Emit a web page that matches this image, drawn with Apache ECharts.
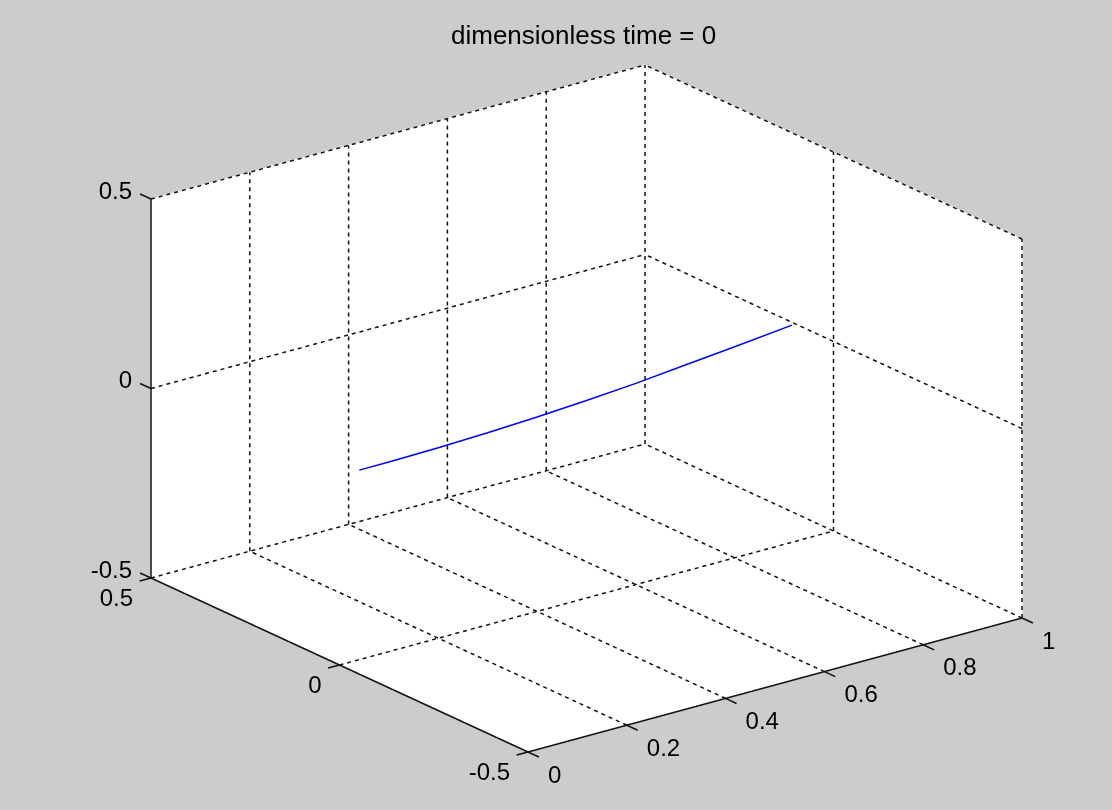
<!DOCTYPE html>
<html><head><meta charset="utf-8">
<script src="https://cdn.jsdelivr.net/npm/echarts@6/dist/echarts.min.js"></script>
<style>html,body{margin:0;padding:0;background:#cccccc}#c{width:1112px;height:810px}</style>
</head><body><div id="c"></div>
<script>
// ---- data ----
const titleText = 'dimensionless time = 0';
const xLim = [0, 1];
const yLim = [-0.5, 0.5];
const zLim = [-0.5, 0.5];
const xTicks = [0, 0.2, 0.4, 0.6, 0.8, 1];
const yTicks = [-0.5, 0, 0.5];
const zTicks = [-0.5, 0, 0.5];
const xTickLabels = ['0', '0.2', '0.4', '0.6', '0.8', '1'];
const yTickLabels = ['-0.5', '0', '0.5'];
const zTickLabels = ['-0.5', '0', '0.5'];
const curveX = [0.04, 0.1, 0.2, 0.3, 0.4, 0.5, 0.6, 0.7, 0.8, 0.916];
const curveY = [0, 0, 0, 0, 0, 0, 0, 0, 0, 0];
const curveZ = [0, 0.0004, 0.0026, 0.0068, 0.013, 0.021, 0.031, 0.044, 0.057, 0.073];

// ---- view (layout of the 3D box on the page) ----
const VIEW = { ox: 528, oy: 752, ex: [494, -134], ey: [-377, -174], ez: [0, -379] };
function proj(x, y, z) {
  const a = (x - xLim[0]) / (xLim[1] - xLim[0]);
  const b = (y - yLim[0]) / (yLim[1] - yLim[0]);
  const c = (z - zLim[0]) / (zLim[1] - zLim[0]);
  return [VIEW.ox + a * VIEW.ex[0] + b * VIEW.ey[0] + c * VIEW.ez[0],
          VIEW.oy + a * VIEW.ex[1] + b * VIEW.ey[1] + c * VIEW.ez[1]];
}
const FONT = "'Liberation Sans', Arial, Helvetica, sans-serif";
const LW = 1.5;
const DASH = [4, 4];

// faces (back planes): y = yMax, x = xMax, z = zMin
const faces = [
  [[xLim[0], yLim[1], zLim[0]], [xLim[1], yLim[1], zLim[0]], [xLim[1], yLim[1], zLim[1]], [xLim[0], yLim[1], zLim[1]]],
  [[xLim[1], yLim[0], zLim[0]], [xLim[1], yLim[1], zLim[0]], [xLim[1], yLim[1], zLim[1]], [xLim[1], yLim[0], zLim[1]]],
  [[xLim[0], yLim[0], zLim[0]], [xLim[1], yLim[0], zLim[0]], [xLim[1], yLim[1], zLim[0]], [xLim[0], yLim[1], zLim[0]]]
];

// grid segments (dashed)
const gridSegs = [];
xTicks.filter(x => x > xLim[0]).forEach(x => {
  gridSegs.push([x, yLim[1], zLim[0], x, yLim[1], zLim[1]]);   // left wall vertical
  gridSegs.push([x, yLim[0], zLim[0], x, yLim[1], zLim[0]]);   // floor
});
zTicks.filter(z => z > zLim[0]).forEach(z => {
  gridSegs.push([xLim[0], yLim[1], z, xLim[1], yLim[1], z]);   // left wall horizontal
  gridSegs.push([xLim[1], yLim[0], z, xLim[1], yLim[1], z]);   // back wall horizontal
});
yTicks.filter(y => y < yLim[1]).forEach(y => {
  gridSegs.push([xLim[1], y, zLim[0], xLim[1], y, zLim[1]]);   // back wall vertical
});
yTicks.filter(y => y > yLim[0]).forEach(y => {
  gridSegs.push([xLim[0], y, zLim[0], xLim[1], y, zLim[0]]);   // floor
});

// axis lines and tick marks (solid)
const axisSegs = [
  [xLim[0], yLim[1], zLim[0], xLim[0], yLim[1], zLim[1]],
  [xLim[0], yLim[0], zLim[0], xLim[0], yLim[1], zLim[0]],
  [xLim[0], yLim[0], zLim[0], xLim[1], yLim[0], zLim[0]]
];
const TY = 0.029 * (yLim[1] - yLim[0]), TX = 0.023 * (xLim[1] - xLim[0]);
zTicks.forEach(z => axisSegs.push([xLim[0], yLim[1], z, xLim[0], yLim[1] + TY, z]));
yTicks.forEach(y => axisSegs.push([xLim[0], y, zLim[0], xLim[0] - TX, y, zLim[0]]));
xTicks.forEach(x => axisSegs.push([x, yLim[0], zLim[0], x, yLim[0] - TY, zLim[0]]));

function segSeries(segs, dash) {
  return {
    type: 'custom', clip: false, silent: true,
    data: segs,
    renderItem: (params, api) => {
      const p1 = api.coord(proj(api.value(0), api.value(1), api.value(2)));
      const p2 = api.coord(proj(api.value(3), api.value(4), api.value(5)));
      return { type: 'line', shape: { x1: p1[0], y1: p1[1], x2: p2[0], y2: p2[1] },
        style: { stroke: '#111', lineWidth: LW, lineDash: dash || null } };
    }
  };
}
function labelSeries(points, labels, dx, dy, align) {
  return {
    type: 'custom', clip: false, silent: true,
    data: points.map((p, i) => [p[0], p[1], p[2], i]),
    renderItem: (params, api) => {
      const p = api.coord(proj(api.value(0), api.value(1), api.value(2)));
      return { type: 'text', x: p[0] + dx, y: p[1] + dy,
        style: { text: labels[api.value(3)], fill: '#000', font: '24px ' + FONT,
          textAlign: align, textVerticalAlign: 'middle' } };
    }
  };
}

const chart = echarts.init(document.getElementById('c'));
chart.setOption({
  animation: false,
  backgroundColor: '#cccccc',
  title: { text: titleText, left: 451, top: 24, padding: 0,
    textStyle: { fontSize: 26, fontWeight: 'normal', color: '#000', fontFamily: FONT } },
  grid: { left: 0, right: 0, top: 0, bottom: 0 },
  xAxis: { type: 'value', min: 0, max: 1112, show: false },
  yAxis: { type: 'value', min: 0, max: 810, inverse: true, show: false },
  series: [
    {
      type: 'custom', clip: false, silent: true,
      data: faces.map((f, i) => [i]),
      renderItem: (params, api) => {
        const f = faces[api.value(0)];
        return { type: 'polygon', shape: { points: f.map(c => api.coord(proj(c[0], c[1], c[2]))) },
          style: { fill: '#ffffff', stroke: '#ffffff', lineWidth: 1 } };
      }
    },
    segSeries(gridSegs, DASH),
    segSeries(axisSegs, null),
    {
      type: 'line', showSymbol: false, silent: true, clip: false,
      data: curveX.map((x, i) => proj(x, curveY[i], curveZ[i])),
      lineStyle: { color: '#0000ff', width: 1.5 }, itemStyle: { color: '#0000ff' }
    },
    labelSeries(zTicks.map(z => [xLim[0], yLim[1], z]), zTickLabels, -19, -7, 'right'),
    labelSeries(yTicks.map(y => [xLim[0], y, zLim[0]]), yTickLabels, -18, 21, 'right'),
    labelSeries(xTicks.map(x => [x, yLim[0], zLim[0]]), xTickLabels, 20, 24, 'left')
  ]
});
</script></body></html>
